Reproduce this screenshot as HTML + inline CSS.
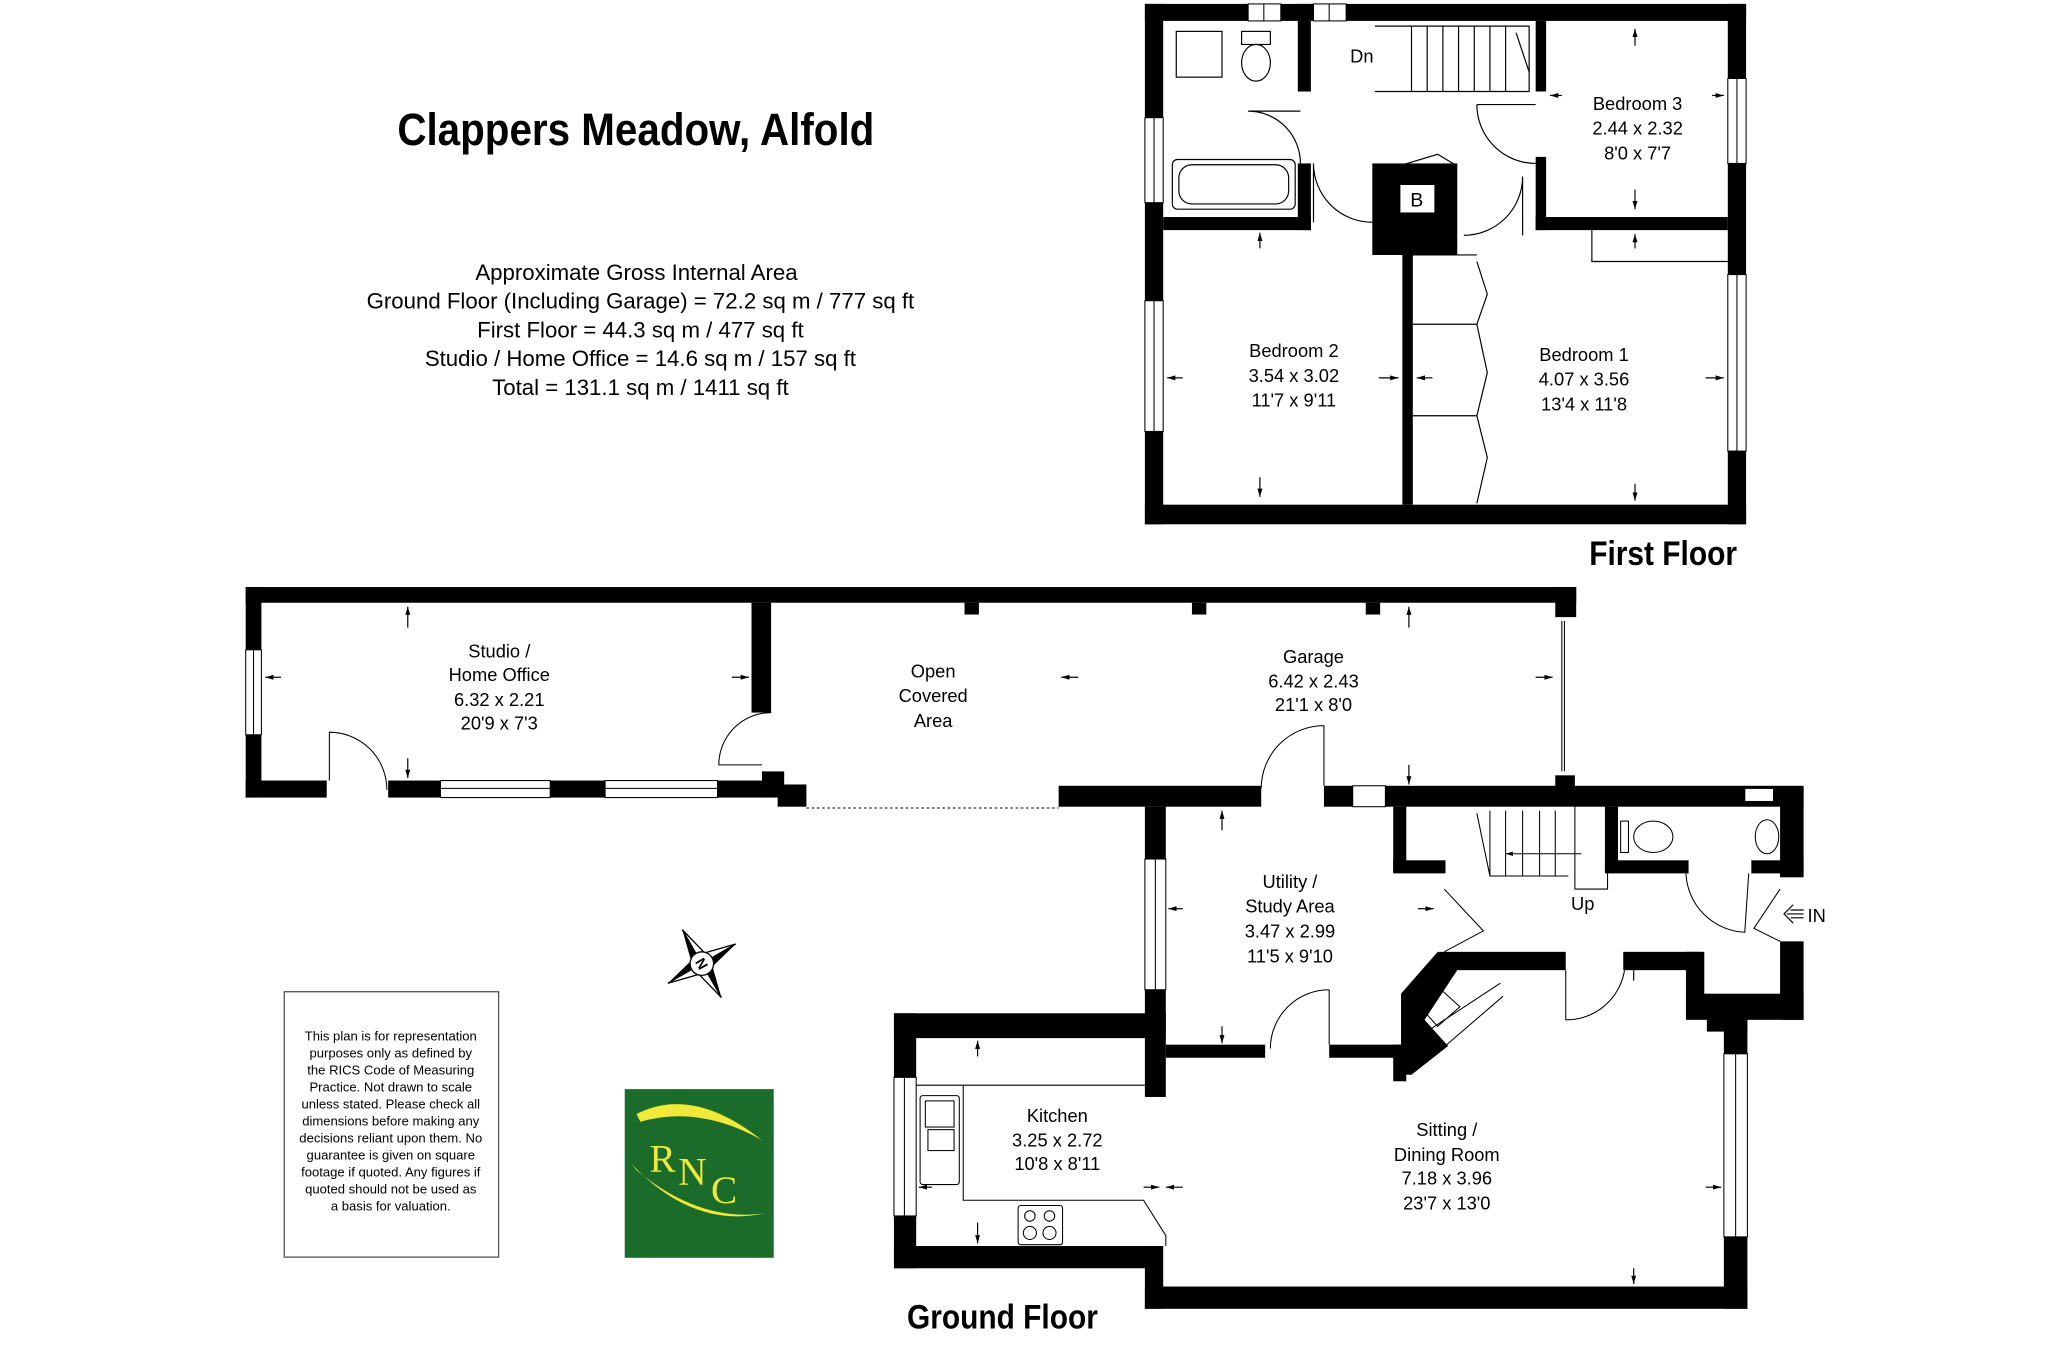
<!DOCTYPE html>
<html><head><meta charset="utf-8"><style>
html,body{margin:0;padding:0;background:#fff}
svg{display:block}
text{font-family:"Liberation Sans Narrow","Liberation Sans",sans-serif;fill:#000}
</style></head><body>
<svg width="2048" height="1348" viewBox="0 0 1567 1031" preserveAspectRatio="none" xmlns="http://www.w3.org/2000/svg">
<defs>
<marker id="ah" viewBox="0 0 10 10" refX="10" refY="5" markerWidth="7" markerHeight="7" orient="auto-start-reverse"><path d="M0,2 L10,5 L0,8 z" fill="#000"/></marker>
</defs>
<rect width="1567" height="1031" fill="#fff"/>

<text x="304" y="111" font-size="35" font-weight="bold" textLength="365" lengthAdjust="spacingAndGlyphs">Clappers Meadow, Alfold</text>
<g font-size="17" text-anchor="middle" style="font-family:'Liberation Sans',sans-serif">
<text x="487" y="214">Approximate Gross Internal Area</text>
<text x="490" y="236">Ground Floor (Including Garage) = 72.2 sq m / 777 sq ft</text>
<text x="490" y="258">First Floor = 44.3 sq m / 477 sq ft</text>
<text x="490" y="280">Studio / Home Office = 14.6 sq m / 157 sq ft</text>
<text x="490" y="302">Total = 131.1 sq m / 1411 sq ft</text>
</g>

<!-- FIRST FLOOR -->
<g fill="#000">
<rect x="876" y="3" width="460" height="13"/>
<rect x="876" y="386" width="460" height="15"/>
<rect x="876" y="3" width="14" height="398"/>
<rect x="1322" y="3" width="14" height="398"/>
<rect x="993" y="3" width="10" height="67"/>
<rect x="993" y="125" width="10" height="51"/>
<rect x="890" y="166" width="113" height="10"/>
<rect x="1050" y="125" width="65" height="70"/>
<rect x="1073" y="195" width="8" height="191"/>
<rect x="1175" y="16" width="8" height="54"/>
<rect x="1175" y="120" width="8" height="56"/>
<rect x="1175" y="166" width="147" height="10"/>
</g>
<g fill="#fff" stroke="#000" stroke-width="0.8">
<rect x="955" y="3" width="25" height="13"/><rect x="1005" y="3" width="25" height="13"/>
<rect x="876" y="90" width="14" height="65"/><rect x="876" y="230" width="14" height="100"/>
<rect x="1322" y="60" width="14" height="65"/><rect x="1322" y="210" width="14" height="135"/>
</g>
<g stroke="#000" stroke-width="0.8">
<line x1="967" y1="3" x2="967" y2="16"/><line x1="1017" y1="3" x2="1017" y2="16"/>
<line x1="883" y1="90" x2="883" y2="155"/><line x1="883" y1="230" x2="883" y2="330"/>
<line x1="1329" y1="60" x2="1329" y2="125"/><line x1="1329" y1="210" x2="1329" y2="345"/>
</g>
<rect x="1071" y="141" width="27" height="22" fill="#fff" stroke="#000"/>
<text x="1084" y="158" font-size="15" text-anchor="middle">B</text>
<g fill="none" stroke="#000" stroke-width="0.9">
<rect x="897" y="122" width="94" height="38" rx="4"/><rect x="902" y="126" width="84" height="30" rx="10"/>
<rect x="900" y="24" width="35" height="35"/><ellipse cx="961" cy="48" rx="11" ry="14"/><rect x="950" y="24" width="22" height="10"/>
<path d="M955,85 A40,40 0 0 1 995,125 M955,85 L995,85"/>
<path d="M1005,125 A45,45 0 0 0 1050,170 M1005,125 L1005,170"/>
<path d="M1120,180 A45,45 0 0 0 1165,135 M1165,135 L1165,180"/>
<path d="M1130,80 A45,45 0 0 0 1175,125 M1130,80 L1175,80"/>
<path d="M1070,127 L1100,118 L1115,127"/>
<path d="M1052,20 L1170,20 L1170,70 L1052,70"/>
<path d="M1080,20 V70 M1092,20 V70 M1104,20 V70 M1116,20 V70 M1128,20 V70 M1140,20 V70 M1152,20 V70"/>
<path d="M1160,25 L1170,55"/>
<path d="M1218,176 V200 H1322"/>
<path d="M1081,248 H1130 M1081,318 H1130 M1081,195 H1130 M1130,200 L1138,225 L1130,248 L1138,285 L1130,318 L1138,350 L1130,385"/>
</g>
<text x="1042" y="48" font-size="14" text-anchor="middle">Dn</text>
<g font-size="14" text-anchor="middle">
<text x="1253" y="84">Bedroom 3</text><text x="1253" y="103">2.44 x 2.32</text><text x="1253" y="122">8'0 x 7'7</text>
<text x="990" y="273">Bedroom 2</text><text x="990" y="292">3.54 x 3.02</text><text x="990" y="311">11'7 x 9'11</text>
<text x="1212" y="276">Bedroom 1</text><text x="1212" y="295">4.07 x 3.56</text><text x="1212" y="314">13'4 x 11'8</text>
</g>
<g stroke="#000" stroke-width="0.9" marker-end="url(#ah)">
<line x1="1251" y1="35" x2="1251" y2="22"/><line x1="1251" y1="145" x2="1251" y2="160"/>
<line x1="964" y1="190" x2="964" y2="178"/><line x1="964" y1="365" x2="964" y2="380"/>
<line x1="905" y1="289" x2="893" y2="289"/><line x1="1055" y1="289" x2="1070" y2="289"/>
<line x1="1096" y1="289" x2="1084" y2="289"/><line x1="1305" y1="289" x2="1319" y2="289"/>
<line x1="1251" y1="190" x2="1251" y2="179"/><line x1="1251" y1="370" x2="1251" y2="383"/>
<line x1="1195" y1="73" x2="1186" y2="73"/><line x1="1310" y1="73" x2="1319" y2="73"/>
</g>
<text x="1216" y="432" font-size="26" font-weight="bold" textLength="113" lengthAdjust="spacingAndGlyphs">First Floor</text>

<!-- GROUND FLOOR -->
<g fill="#000">
<rect x="188" y="449" width="1018" height="12"/>
<rect x="188" y="449" width="12" height="161"/>
<rect x="188" y="597" width="62" height="13"/>
<rect x="297" y="597" width="288" height="13"/>
<rect x="575" y="461" width="15" height="84"/>
<rect x="583" y="590" width="17" height="20"/>
<rect x="595" y="600" width="22" height="17"/>
<rect x="1190" y="449" width="16" height="23"/>
<rect x="1190" y="593" width="15" height="12"/>
<rect x="738" y="461" width="11" height="9"/><rect x="912" y="461" width="11" height="9"/><rect x="1045" y="461" width="11" height="9"/>
<rect x="810" y="601" width="155" height="16"/>
<rect x="1013" y="601" width="367" height="16"/>
<rect x="876" y="617" width="16" height="40"/>
<rect x="876" y="757" width="16" height="82"/>
<rect x="684" y="775" width="208" height="19"/>
<rect x="684" y="775" width="17" height="195"/>
<rect x="684" y="953" width="204" height="17"/>
<rect x="876" y="953" width="14" height="48"/>
<rect x="876" y="984" width="461" height="17"/>
<rect x="1319" y="775" width="18" height="226"/>
<rect x="892" y="799" width="76" height="10"/>
<rect x="1017" y="799" width="57" height="10"/>
<rect x="1066" y="799" width="10" height="28"/>
<rect x="1066" y="617" width="10" height="50"/>
<rect x="1066" y="658" width="40" height="10"/>
<rect x="1228" y="617" width="10" height="50"/>
<rect x="1228" y="658" width="64" height="10"/>
<rect x="1340" y="658" width="40" height="10"/>
<rect x="1362" y="603" width="18" height="68"/>
<rect x="1362" y="720" width="18" height="60"/>
<rect x="1290" y="760" width="90" height="20"/>
<rect x="1290" y="728" width="14" height="50"/>
<rect x="1242" y="728" width="60" height="14"/>
<rect x="1100" y="728" width="98" height="14"/>
<rect x="1306" y="775" width="31" height="14"/>
<path d="M1100,728 L1115,742 L1090,780 L1108,800 L1080,822 L1072,822 L1072,760 Z"/>
</g>
<g fill="#fff" stroke="#000" stroke-width="0.8">
<rect x="188" y="497" width="12" height="65"/>
<rect x="337" y="597" width="84" height="13"/><rect x="463" y="597" width="86" height="13"/>
<rect x="876" y="657" width="16" height="100"/>
<rect x="684" y="824" width="17" height="106"/>
<rect x="1319" y="806" width="18" height="140"/>
<rect x="1035" y="601" width="25" height="16"/>
<rect x="1335" y="603" width="22" height="10"/>
</g>
<g stroke="#000" stroke-width="0.8" fill="none">
<line x1="194" y1="497" x2="194" y2="562"/>
<line x1="337" y1="603" x2="421" y2="603"/><line x1="463" y1="603" x2="549" y2="603"/>
<line x1="884" y1="657" x2="884" y2="757"/><line x1="692" y1="824" x2="692" y2="930"/><line x1="1328" y1="806" x2="1328" y2="946"/>
<line x1="1195" y1="475" x2="1195" y2="590"/><line x1="1197" y1="475" x2="1197" y2="590"/>
<line x1="617" y1="618" x2="810" y2="618" stroke-dasharray="2,2"/>
<path d="M252,560 A44,44 0 0 1 296,604 M252,560 V597"/>
<path d="M590,545 A40,40 0 0 0 550,585 H583"/>
<path d="M1013,555 A48,48 0 0 0 965,603 M1013,555 V601"/>
<path d="M1017,757 A45,45 0 0 0 972,802 M1017,757 V799"/>
<path d="M1105,680 L1135,712 L1105,728"/>
<path d="M1290,668 A47,47 0 0 0 1335,713 L1338,668"/>
<path d="M1362,680 L1342,710 L1362,720"/>
<path d="M1198,780 A45,45 0 0 0 1243,742 M1198,742 V780"/>
<path d="M1076,667 H1106 M1130,622 L1140,670 M1140,620 V670 H1200 M1152,620 V670 M1165,620 V670 M1178,620 V670 M1190,620 V670"/>
<path d="M1205,617 V680 H1230 V617"/>
<line x1="1210" y1="653" x2="1152" y2="653" marker-end="url(#ah)"/>
<ellipse cx="1265" cy="640" rx="15" ry="12"/><rect x="1240" y="628" width="6" height="24"/>
<ellipse cx="1352" cy="640" rx="9" ry="13"/>
<path d="M701,830 H737 V918 H875 L892,945 V953 M737,830 H876"/>
<rect x="704" y="838" width="30" height="68" rx="2"/><rect x="708" y="842" width="22" height="20"/><rect x="710" y="864" width="20" height="16"/>
<rect x="779" y="922" width="34" height="30" rx="2"/>
<circle cx="788" cy="930" r="4"/><circle cx="803" cy="930" r="4"/><circle cx="788" cy="943" r="5"/><circle cx="803" cy="943" r="5"/>
<path d="M1095,750 L1082,765 L1100,785 L1117,770 Z M1090,790 L1148,752 M1100,805 L1150,762"/>
</g>
<g font-size="14" text-anchor="middle">
<text x="382" y="503">Studio /</text><text x="382" y="521">Home Office</text><text x="382" y="540">6.32 x 2.21</text><text x="382" y="558">20'9 x 7'3</text>
<text x="714" y="518">Open</text><text x="714" y="537">Covered</text><text x="714" y="556">Area</text>
<text x="1005" y="507">Garage</text><text x="1005" y="526">6.42 x 2.43</text><text x="1005" y="544">21'1 x 8'0</text>
<text x="987" y="679">Utility /</text><text x="987" y="698">Study Area</text><text x="987" y="717">3.47 x 2.99</text><text x="987" y="736">11'5 x 9'10</text>
<text x="1211" y="696">Up</text>
<text x="1390" y="705">IN</text>
<text x="809" y="858">Kitchen</text><text x="809" y="877">3.25 x 2.72</text><text x="809" y="895">10'8 x 8'11</text>
<text x="1107" y="869">Sitting /</text><text x="1107" y="888">Dining Room</text><text x="1107" y="906">7.18 x 3.96</text><text x="1107" y="925">23'7 x 13'0</text>
</g>
<g stroke="#000" stroke-width="0.9" marker-end="url(#ah)">
<line x1="312" y1="480" x2="312" y2="464"/><line x1="312" y1="580" x2="312" y2="595"/>
<line x1="215" y1="518" x2="203" y2="518"/><line x1="560" y1="518" x2="573" y2="518"/>
<line x1="825" y1="518" x2="812" y2="518"/><line x1="1175" y1="518" x2="1188" y2="518"/>
<line x1="1078" y1="480" x2="1078" y2="464"/><line x1="1078" y1="585" x2="1078" y2="600"/>
<line x1="935" y1="635" x2="935" y2="620"/><line x1="935" y1="785" x2="935" y2="798"/>
<line x1="905" y1="695" x2="894" y2="695"/><line x1="1085" y1="695" x2="1097" y2="695"/>
<line x1="748" y1="808" x2="748" y2="796"/><line x1="748" y1="935" x2="748" y2="951"/>
<line x1="713" y1="908" x2="703" y2="908"/><line x1="875" y1="908" x2="887" y2="908"/><line x1="905" y1="908" x2="892" y2="908"/>
<line x1="1250" y1="750" x2="1250" y2="732"/><line x1="1250" y1="970" x2="1250" y2="982"/>
<line x1="1305" y1="908" x2="1317" y2="908"/>
</g>
<path d="M1380,699 H1367 M1372,692 L1365,699 L1372,706 M1380,696 H1370 M1380,702 H1370" stroke="#000" fill="none" stroke-width="0.9"/>
<text x="694" y="1016" font-size="26" font-weight="bold" textLength="146" lengthAdjust="spacingAndGlyphs">Ground Floor</text>

<g transform="translate(537,737) rotate(-30)">
<path d="M0,-30 L6,-6 L0,0 Z" fill="#fff" stroke="#000"/><path d="M0,-30 L-6,-6 L0,0 Z" fill="#000"/>
<path d="M0,30 L-6,6 L0,0 Z" fill="#fff" stroke="#000"/><path d="M0,30 L6,6 L0,0 Z" fill="#000"/>
<path d="M-30,0 L-6,-6 L0,0 Z" fill="#000"/><path d="M-30,0 L-6,6 L0,0 Z" fill="#fff" stroke="#000"/>
<path d="M30,0 L6,6 L0,0 Z" fill="#000"/><path d="M30,0 L6,-6 L0,0 Z" fill="#fff" stroke="#000"/>
<circle r="9" fill="#fff" stroke="#000"/>
<text y="4" font-size="11" text-anchor="middle" font-weight="bold" transform="rotate(90)">N</text>
</g>

<rect x="217.5" y="758.5" width="164" height="203" fill="#fff" stroke="#555" stroke-width="1"/>
<g font-size="10" text-anchor="middle" style="font-family:'Liberation Sans',sans-serif">
<text x="299" y="796">This plan is for representation</text>
<text x="299" y="809">purposes only as defined by</text>
<text x="299" y="822">the RICS Code of Measuring</text>
<text x="299" y="835">Practice. Not drawn to scale</text>
<text x="299" y="848">unless stated. Please check all</text>
<text x="299" y="861">dimensions before making any</text>
<text x="299" y="874">decisions reliant upon them. No</text>
<text x="299" y="887">guarantee is given on square</text>
<text x="299" y="900">footage if quoted. Any figures if</text>
<text x="299" y="913">quoted should not be used as</text>
<text x="299" y="926">a basis for valuation.</text>
</g>

<rect x="478" y="833" width="114" height="129" fill="#1b6b2b"/>
<path d="M487,852 Q530,830 583,872 Q535,845 490,858 Z" fill="#f1e93a"/>
<path d="M483,890 Q530,940 585,928 Q535,935 487,895 Z" fill="#f1e93a"/>
<text x="497" y="896" font-size="30" style="fill:#f1e93a;font-family:'Liberation Serif',serif">R</text>
<text x="519" y="906" font-size="30" style="fill:#f1e93a;font-family:'Liberation Serif',serif">N</text>
<text x="544" y="920" font-size="30" style="fill:#f1e93a;font-family:'Liberation Serif',serif">C</text>
</svg>
</body></html>
